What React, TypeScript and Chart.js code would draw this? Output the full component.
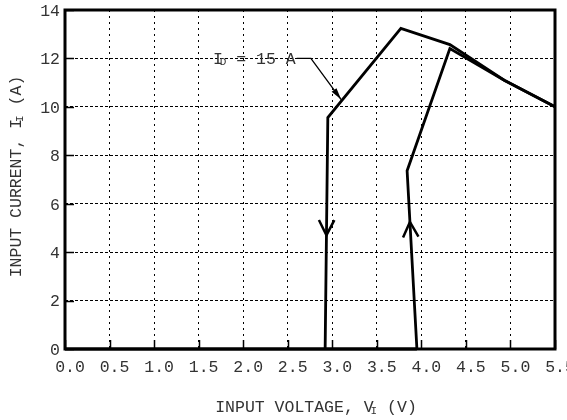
import React, { useEffect, useRef } from 'react';
import { Chart, registerables } from 'chart.js';

Chart.register(...registerables);

// ---- data ----
const xTickValues = [0, 0.5, 1, 1.5, 2, 2.5, 3, 3.5, 4, 4.5, 5, 5.5];
const yTickValues = [0, 2, 4, 6, 8, 10, 12, 14];

// falling branch (I_D = 15 A labelled curve)
const curveAX = [2.92, 2.95, 3.77, 4.32, 4.93, 5.5];
const curveAY = [0, 9.56, 13.24, 12.57, 11.1, 10];

// rising branch
const curveBX = [3.95, 3.84, 4.32, 4.93, 5.5];
const curveBY = [0, 7.36, 12.41, 11.1, 10];

// zero-current run along the axis
const baseX = [0, 3.95];
const baseY = [0, 0];

// direction arrows on the vertical parts: [curve, segment, y value, direction]
const arrowCurve = ['A', 'B'];
const arrowY = [4.7, 5.25];
const arrowDir = [-1, 1];

// annotation
const annotMain = 'I';
const annotSub = 'D';
const annotRest = ' = 15 A';
const annotTextPos = [1.66, 12];
const annotLeaderX = [2.6, 2.76, 3.1];
const annotLeaderY = [12, 12, 10.3];

const xTitle = ['INPUT VOLTAGE, V', 'I', ' (V)'];
const yTitle = ['INPUT CURRENT, I', 'I', ' (A)'];

const FONT = 'Liberation Mono';
const FS = 16.5;
const SUB_FS = 11;
const TEXT_COLOR = '#333';

function toPts(xs: number[], ys: number[]) {
  return xs.map((x, i) => ({ x, y: ys[i] }));
}

function drawRich(
  ctx: CanvasRenderingContext2D,
  parts: string[],
  x: number,
  y: number,
  align: 'left' | 'center'
) {
  // parts: [main, subscript, rest]
  ctx.textBaseline = 'middle';
  ctx.textAlign = 'left';
  ctx.font = `${FS}px "${FONT}"`;
  const w0 = ctx.measureText(parts[0]).width;
  const w2 = ctx.measureText(parts[2]).width;
  ctx.font = `${SUB_FS}px "${FONT}"`;
  const w1 = ctx.measureText(parts[1]).width;
  const overlap = 3;
  const total = w0 + w1 - overlap + w2;
  let sx = align === 'center' ? x - total / 2 : x;
  ctx.font = `${FS}px "${FONT}"`;
  ctx.fillText(parts[0], sx, y);
  sx += w0 - overlap;
  ctx.font = `${SUB_FS}px "${FONT}"`;
  ctx.fillText(parts[1], sx, y + 3);
  sx += w1;
  ctx.font = `${FS}px "${FONT}"`;
  ctx.fillText(parts[2], sx, y);
}

function pointAtY(xs: number[], ys: number[], yv: number) {
  for (let i = 0; i < xs.length - 1; i++) {
    const y0 = ys[i], y1 = ys[i + 1];
    if ((yv - y0) * (yv - y1) <= 0 && y0 !== y1) {
      const t = (yv - y0) / (y1 - y0);
      return { x: xs[i] + t * (xs[i + 1] - xs[i]), i };
    }
  }
  return { x: xs[0], i: 0 };
}

const overlayPlugin = {
  id: 'overlay',
  afterDatasetsDraw(chart: any) {
    const { ctx, chartArea: a, scales } = chart;
    const xs = scales.x;
    const ys = scales.y;
    ctx.save();

    // inward tick marks
    ctx.strokeStyle = '#000';
    ctx.lineWidth = 1.5;
    ctx.setLineDash([]);
    ctx.beginPath();
    xTickValues.forEach((v) => {
      const px = Math.round(xs.getPixelForValue(v)) + 0.5;
      ctx.moveTo(px, a.bottom);
      ctx.lineTo(px, a.bottom - 9);
    });
    yTickValues.forEach((v) => {
      const py = Math.round(ys.getPixelForValue(v)) + 0.5;
      ctx.moveTo(a.left, py);
      ctx.lineTo(a.left + 9, py);
    });
    ctx.stroke();

    // frame
    ctx.lineWidth = 3;
    ctx.strokeRect(a.left, a.top, a.right - a.left, a.bottom - a.top);

    // direction arrows
    ctx.lineWidth = 2.5;
    arrowCurve.forEach((c, k) => {
      const cx = c === 'A' ? curveAX : curveBX;
      const cy = c === 'A' ? curveAY : curveBY;
      const p = pointAtY(cx, cy, arrowY[k]);
      const i = p.i;
      const tipX = xs.getPixelForValue(p.x);
      const tipY = ys.getPixelForValue(arrowY[k]);
      let dx = xs.getPixelForValue(cx[i + 1]) - xs.getPixelForValue(cx[i]);
      let dy = ys.getPixelForValue(cy[i + 1]) - ys.getPixelForValue(cy[i]);
      const len = Math.hypot(dx, dy);
      dx /= len; dy /= len;
      // segment goes upward in value; flip for downward arrow
      const s = arrowDir[k];
      dx *= s; dy *= s;
      const L = 17;
      const ang = (27 * Math.PI) / 180;
      const bx = -dx, by = -dy;
      const w1x = tipX + L * (bx * Math.cos(ang) - by * Math.sin(ang));
      const w1y = tipY + L * (bx * Math.sin(ang) + by * Math.cos(ang));
      const w2x = tipX + L * (bx * Math.cos(-ang) - by * Math.sin(-ang));
      const w2y = tipY + L * (bx * Math.sin(-ang) + by * Math.cos(-ang));
      ctx.beginPath();
      ctx.moveTo(w1x, w1y);
      ctx.lineTo(tipX, tipY);
      ctx.lineTo(w2x, w2y);
      ctx.stroke();
    });

    // annotation leader
    ctx.lineWidth = 1.3;
    ctx.beginPath();
    annotLeaderX.forEach((v, i) => {
      const px = xs.getPixelForValue(v);
      const py = ys.getPixelForValue(annotLeaderY[i]);
      if (i === 0) ctx.moveTo(px, py);
      else ctx.lineTo(px, py);
    });
    ctx.stroke();
    {
      const n = annotLeaderX.length;
      const tx = xs.getPixelForValue(annotLeaderX[n - 1]);
      const ty = ys.getPixelForValue(annotLeaderY[n - 1]);
      const fx = xs.getPixelForValue(annotLeaderX[n - 2]);
      const fy = ys.getPixelForValue(annotLeaderY[n - 2]);
      let dx = tx - fx, dy = ty - fy;
      const len = Math.hypot(dx, dy);
      dx /= len; dy /= len;
      const L = 12, W = 3;
      ctx.fillStyle = '#000';
      ctx.beginPath();
      ctx.moveTo(tx, ty);
      ctx.lineTo(tx - L * dx - W * dy, ty - L * dy + W * dx);
      ctx.lineTo(tx - L * dx + W * dy, ty - L * dy - W * dx);
      ctx.closePath();
      ctx.fill();
    }

    // annotation text
    ctx.fillStyle = TEXT_COLOR;
    drawRich(
      ctx,
      [annotMain, annotSub, annotRest],
      xs.getPixelForValue(annotTextPos[0]),
      ys.getPixelForValue(annotTextPos[1]) + 1,
      'left'
    );

    ctx.restore();
  },
  afterDraw(chart: any) {
    const { ctx, chartArea: a } = chart;
    ctx.save();
    ctx.fillStyle = TEXT_COLOR;
    drawRich(ctx, xTitle, (a.left + a.right) / 2 + 6, 408, 'center');
    ctx.translate(17, (a.top + a.bottom) / 2 - 3);
    ctx.rotate(-Math.PI / 2);
    drawRich(ctx, yTitle, 0, 0, 'center');
    ctx.restore();
  },
};

export default function App() {
  const ref = useRef<HTMLCanvasElement | null>(null);

  useEffect(() => {
    document.body.style.margin = '0';
    if (!ref.current) return;
    const lineStyle = {
      borderColor: '#000',
      borderWidth: 2.8,
      pointRadius: 0,
      tension: 0,
      fill: false,
      clip: false as any,
    };
    const chart = new Chart(ref.current, {
      type: 'line',
      data: {
        datasets: [
          { ...lineStyle, data: toPts(curveAX, curveAY) },
          { ...lineStyle, data: toPts(curveBX, curveBY) },
          { ...lineStyle, borderWidth: 3, data: toPts(baseX, baseY) },
        ],
      },
      options: {
        animation: false,
        responsive: false,
        maintainAspectRatio: false,
        parsing: false as any,
        layout: { padding: { left: 0, right: 12, top: 10, bottom: 0 } },
        plugins: {
          legend: { display: false },
          tooltip: { enabled: false },
          title: { display: false },
        },
        scales: {
          x: {
            type: 'linear',
            min: 0,
            max: 5.5,
            afterBuildTicks: (s: any) => {
              s.ticks = xTickValues.map((v) => ({ value: v }));
            },
            afterFit: (s: any) => {
              s.height = 71;
              s.paddingLeft = 0;
              s.paddingRight = 0;
            },
            ticks: {
              callback: (v: any) => Number(v).toFixed(1),
              font: { family: FONT, size: FS },
              color: TEXT_COLOR,
              labelOffset: 5,
              padding: 9,
              maxRotation: 0,
              minRotation: 0,
              autoSkip: false,
            },
            grid: { color: '#000', lineWidth: 1, drawTicks: false },
            border: { display: false, dash: [2, 4] },
          },
          y: {
            type: 'linear',
            min: 0,
            max: 14,
            afterBuildTicks: (s: any) => {
              s.ticks = yTickValues.map((v) => ({ value: v }));
            },
            afterFit: (s: any) => {
              s.width = 65;
              s.paddingTop = 0;
              s.paddingBottom = 0;
            },
            ticks: {
              font: { family: FONT, size: FS },
              color: TEXT_COLOR,
              padding: 5,
              labelOffset: 1.5,
              autoSkip: false,
            },
            grid: { color: '#000', lineWidth: 1, drawTicks: false },
            border: { display: false, dash: [3, 2] },
          },
        },
      },
      plugins: [overlayPlugin],
    });
    return () => chart.destroy();
  }, []);

  return (
    <div style={{ width: 567, height: 420 }}>
      <canvas ref={ref} width={567} height={420} style={{ display: 'block' }} />
    </div>
  );
}
